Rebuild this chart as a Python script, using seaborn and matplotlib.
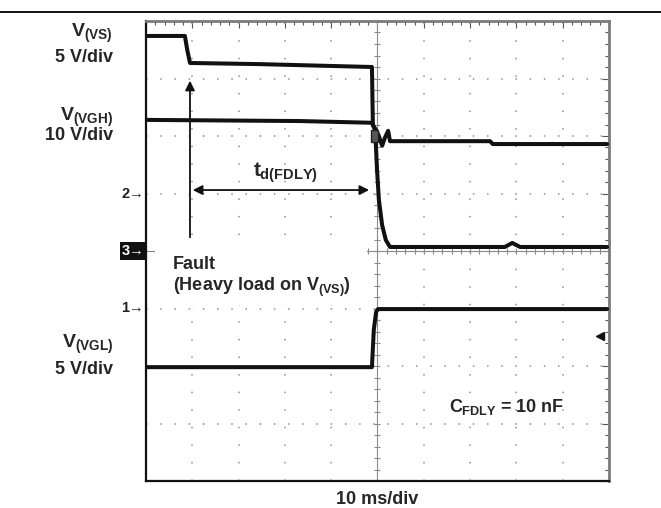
import numpy as np
import pandas as pd
import matplotlib
matplotlib.use("Agg")
import matplotlib.pyplot as plt
import seaborn as sns
from matplotlib.lines import Line2D
from matplotlib.patches import Rectangle

# ---- data (oscilloscope divisions: x 0..10, y 0..8) ----
vs_x = [0, 0.84, 0.89, 0.95, 2.46, 4.88, 4.90, 4.97, 5.03, 5.10, 5.16, 5.23, 5.27, 7.43, 7.49, 9.96]
vs_y = [7.74, 7.74, 7.50, 7.27, 7.25, 7.20, 6.19, 6.10, 6.00, 5.83, 5.97, 6.09, 5.91, 5.91, 5.86, 5.86]

vgh_x = [0, 3.33, 4.88, 4.95, 4.99, 5.03, 5.10, 5.18, 5.27, 7.75, 7.91, 8.08, 9.96]
vgh_y = [6.28, 6.26, 6.23, 6.10, 5.41, 4.89, 4.45, 4.19, 4.07, 4.07, 4.14, 4.07, 4.07]

vgl_x = [0, 4.88, 4.92, 4.97, 5.01, 9.96]
vgl_y = [1.98, 1.98, 2.63, 2.94, 2.99, 2.99]

ground_labels = ["2", "3", "1"]
ground_levels = [5.0, 4.0, 3.0]

W, H = 661, 508
sns.set_style("white")
plt.rcParams["font.family"] = ["Liberation Sans", "DejaVu Sans"]
plt.rcParams["font.weight"] = "bold"
plt.rcParams["mathtext.fontset"] = "custom"
plt.rcParams["mathtext.rm"] = "Liberation Sans:bold"
plt.rcParams["mathtext.it"] = "Liberation Sans:bold"
plt.rcParams["mathtext.bf"] = "Liberation Sans:bold"

fig = plt.figure(figsize=(W / 100, H / 100), dpi=100)
L, R, T, B = 146, 609, 21, 481
ax = fig.add_axes([L / W, 1 - B / H, (R - L) / W, (B - T) / H])
ax.set_xlim(0, 10)
ax.set_ylim(0, 8)

def fp(px, py):
    return px / W, 1 - py / H

# grid (dotted graticule)
for gx in range(1, 10):
    if gx != 5:
        ax.axvline(gx, color="#8f8f8f", lw=1.1, ls=(0, (1, 10.5)), zorder=1)
for gy in range(1, 8):
    if gy != 4:
        ax.axhline(gy, color="#8f8f8f", lw=1.1, ls=(0, (1, 8.3)), zorder=1)
# center crosshair with small ticks
ax.axvline(5, color="#8a8a8a", lw=0.8, zorder=1)
ax.axhline(4, color="#8a8a8a", lw=0.8, zorder=1)
tx = np.arange(0, 10.01, 0.2)
ty = np.arange(0, 8.01, 0.2)
ax.plot(tx, np.full_like(tx, 4), ls="none", marker="|", ms=5, mew=0.8, color="#8a8a8a", zorder=1)
ax.plot(np.full_like(ty, 5), ty, ls="none", marker="_", ms=5, mew=0.8, color="#8a8a8a", zorder=1)

# border ticks
ax.set_xticks(range(0, 11))
ax.set_yticks(range(0, 9))
ax.set_xticks(tx, minor=True)
ax.set_yticks(ty, minor=True)
ax.tick_params(which="both", direction="in", top=True, right=True, labelleft=False,
               labelbottom=False, color="#555555")
ax.tick_params(which="major", length=5, width=0.8)
ax.tick_params(which="minor", length=3, width=0.8)
for s in ["left", "bottom"]:
    ax.spines[s].set_color("#111111")
    ax.spines[s].set_linewidth(1.6)
for s in ["top", "right"]:
    ax.spines[s].set_color("#7a7a7a")
    ax.spines[s].set_linewidth(2.0)

# white box behind fault text
ax.add_patch(Rectangle(((155 - L) / 46.3, (B - 305) / 57.5), (367 - 155) / 46.3, (305 - 242) / 57.5,
                       facecolor="white", edgecolor="none", zorder=2))

# traces
df = pd.concat([
    pd.DataFrame({"t": vs_x, "v": vs_y, "ch": "VS"}),
    pd.DataFrame({"t": vgh_x, "v": vgh_y, "ch": "VGH"}),
    pd.DataFrame({"t": vgl_x, "v": vgl_y, "ch": "VGL"}),
])
for ch in ["VS", "VGH", "VGL"]:
    sns.lineplot(data=df[df.ch == ch], x="t", y="v", ax=ax, color="#111111", lw=2.9,
                 sort=False, estimator=None, legend=False, zorder=4)
ax.set_xlabel("")
ax.set_ylabel("")

# trigger marker and right arrow
ax.text(4.93, 6.0, " ", fontsize=6, ha="center", va="center", zorder=5,
        bbox=dict(boxstyle="square,pad=0.25", fc="#555555", ec="#222222", lw=1))
ax.plot([9.8], [2.52], marker="<", ms=6, color="#111111", ls="none", zorder=5)

# annotation arrows
ax.annotate("", xy=(0.95, 7.01), xytext=(0.95, 4.19),
            arrowprops=dict(arrowstyle="-|>", color="#111111", lw=1.3, mutation_scale=14), zorder=6)
ax.annotate("", xy=(0.95, 5.06), xytext=(4.88, 5.06),
            arrowprops=dict(arrowstyle="<|-|>", color="#111111", lw=1.3, mutation_scale=14), zorder=6)

# left labels
fs = 13
fig.text(*fp(113, 37), r"$V_{(VS)}$", ha="right", va="baseline", fontsize=fs + 1)
fig.text(*fp(113, 62), "5 V/div", ha="right", va="baseline", fontsize=fs, fontweight="bold")
fig.text(*fp(113, 121), r"$V_{(VGH)}$", ha="right", va="baseline", fontsize=fs + 1)
fig.text(*fp(113, 140), "10 V/div", ha="right", va="baseline", fontsize=fs, fontweight="bold")
fig.text(*fp(113, 348), r"$V_{(VGL)}$", ha="right", va="baseline", fontsize=fs + 1)
fig.text(*fp(113, 374), "5 V/div", ha="right", va="baseline", fontsize=fs, fontweight="bold")

# ground markers
for lab, lev in zip(ground_labels, ground_levels):
    py = B - lev * 57.5
    if lab == "3":
        fig.text(*fp(144, py), lab + "\u2192", ha="right", va="center", fontsize=10.5,
                 color="white", fontweight="bold",
                 bbox=dict(boxstyle="square,pad=0.12", fc="#111111", ec="none"))
    else:
        fig.text(*fp(144, py), lab + "\u2192", ha="right", va="center", fontsize=10.5,
                 color="#222222", fontweight="bold")

# annotation texts
fig.text(*fp(253, 177), r"$t_{d(FDLY)}$", ha="left", va="baseline", fontsize=fs + 2)
fig.text(*fp(173, 269), "Fault", ha="left", va="baseline", fontsize=fs, fontweight="bold")
fig.text(*fp(173, 291), r"(Heavy load on $V_{(VS)}$)", ha="left", va="baseline", fontsize=fs,
         fontweight="bold")
fig.text(*fp(449, 412), r"$C_{FDLY}$ = 10 nF", ha="left", va="baseline", fontsize=fs,
         fontweight="bold")
fig.text(*fp(377, 504), "10 ms/div", ha="center", va="baseline", fontsize=fs, fontweight="bold")

# top rule
fig.add_artist(Line2D([0, 1], [1 - 12 / H] * 2, color="black", lw=1.3))

fig.savefig("out.png", dpi=100, facecolor="white")
